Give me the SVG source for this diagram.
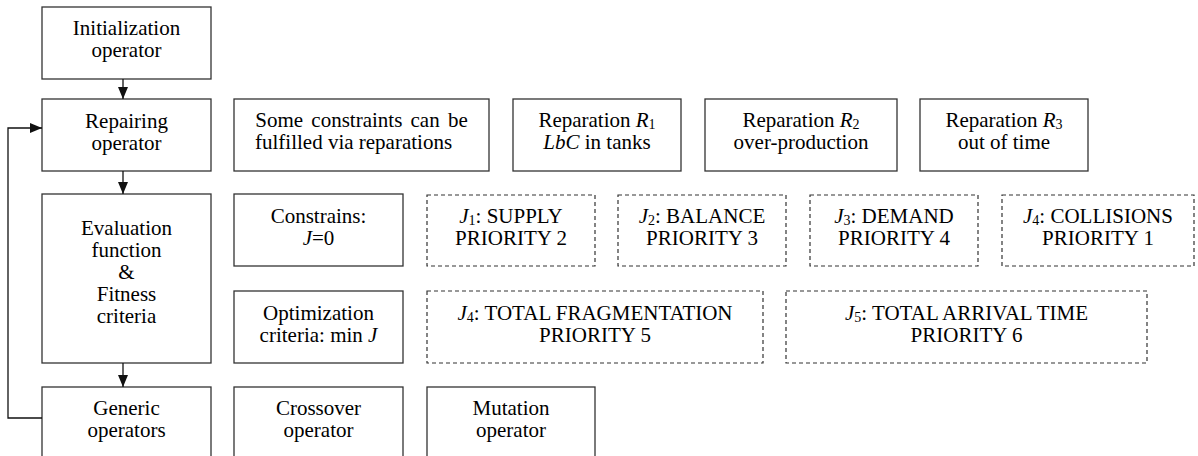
<svg xmlns="http://www.w3.org/2000/svg" width="1198" height="456" viewBox="0 0 1198 456" font-family="'Liberation Serif', 'Times New Roman', 'DejaVu Serif', serif">
<defs>
<style>
.box{fill:#fff;stroke:#333;stroke-width:1.3}
.dbox{fill:#fff;stroke:#333;stroke-width:1.2;stroke-dasharray:4 3}
text{font-family:'Liberation Serif','Times New Roman','DejaVu Serif',serif;font-size:21px;fill:#000;text-anchor:middle}
.i{font-style:italic}
.sub{font-size:14px}
.conn{fill:none;stroke:#111;stroke-width:1.3}
</style>
<marker id="ah" markerWidth="12" markerHeight="10" refX="12" refY="5" orient="auto" markerUnits="userSpaceOnUse">
<path d="M0,0 L12,5 L0,10 z" fill="#111"/>
</marker>
</defs>
<rect width="1198" height="456" fill="#fff"/>

<g id="init">
<rect class="box" x="42" y="7" width="169" height="72"/>
<text x="126.5" y="35">Initialization</text>
<text x="126.5" y="57">operator</text>
</g>
<g id="repairing">
<rect class="box" x="42" y="99" width="169" height="72"/>
<text x="126.5" y="128">Repairing</text>
<text x="126.5" y="150">operator</text>
</g>
<g id="evaluation">
<rect class="box" x="42" y="194" width="169" height="169"/>
<text x="126.5" y="235">Evaluation</text>
<text x="126.5" y="257">function</text>
<text x="126.5" y="279">&amp;</text>
<text x="126.5" y="301">Fitness</text>
<text x="126.5" y="323">criteria</text>
</g>
<g id="generic">
<rect class="box" x="42" y="387" width="169" height="80"/>
<text x="126.5" y="415">Generic</text>
<text x="126.5" y="437">operators</text>
</g>

<g id="some-constraints">
<rect class="box" x="234" y="99" width="255" height="72"/>
<text x="361.5" y="127" word-spacing="3">Some constraints can be</text>
<text x="255" y="149" style="text-anchor:start">fulfilled via reparations</text>
</g>
<g id="r1">
<rect class="box" x="513" y="99" width="168" height="72"/>
<text x="597" y="127">Reparation <tspan class="i">R</tspan><tspan class="sub" dy="2">1</tspan></text>
<text x="597" y="149"><tspan class="i">LbC</tspan> in tanks</text>
</g>
<g id="r2">
<rect class="box" x="705" y="99" width="192" height="72"/>
<text x="801" y="127">Reparation <tspan class="i">R</tspan><tspan class="sub" dy="2">2</tspan></text>
<text x="801" y="149">over-production</text>
</g>
<g id="r3">
<rect class="box" x="920" y="99" width="168" height="72"/>
<text x="1004" y="127">Reparation <tspan class="i">R</tspan><tspan class="sub" dy="2">3</tspan></text>
<text x="1004" y="149">out of time</text>
</g>

<g id="constrains">
<rect class="box" x="234" y="194" width="169" height="72"/>
<text x="318.5" y="223">Constrains:</text>
<text x="318.5" y="245"><tspan class="i">J</tspan>=0</text>
</g>
<g id="j1">
<rect class="dbox" x="427" y="195" width="168" height="71"/>
<text x="511" y="223"><tspan class="i">J</tspan><tspan class="sub" dy="2">1</tspan><tspan dy="-2">: SUPPLY</tspan></text>
<text x="511" y="245">PRIORITY 2</text>
</g>
<g id="j2">
<rect class="dbox" x="618" y="195" width="168" height="71"/>
<text x="702" y="223"><tspan class="i">J</tspan><tspan class="sub" dy="2">2</tspan><tspan dy="-2">: BALANCE</tspan></text>
<text x="702" y="245">PRIORITY 3</text>
</g>
<g id="j3">
<rect class="dbox" x="810" y="195" width="168" height="71"/>
<text x="894" y="223"><tspan class="i">J</tspan><tspan class="sub" dy="2">3</tspan><tspan dy="-2">: DEMAND</tspan></text>
<text x="894" y="245">PRIORITY 4</text>
</g>
<g id="j4-collisions">
<rect class="dbox" x="1002" y="195" width="192" height="71"/>
<text x="1098" y="223"><tspan class="i">J</tspan><tspan class="sub" dy="2">4</tspan><tspan dy="-2">: COLLISIONS</tspan></text>
<text x="1098" y="245">PRIORITY 1</text>
</g>

<g id="optimization">
<rect class="box" x="234" y="291" width="169" height="72"/>
<text x="318.5" y="320">Optimization</text>
<text x="318.5" y="342">criteria: min <tspan class="i">J</tspan></text>
</g>
<g id="j4-fragmentation">
<rect class="dbox" x="427" y="291" width="336" height="72"/>
<text x="595" y="320"><tspan class="i">J</tspan><tspan class="sub" dy="2">4</tspan><tspan dy="-2">: TOTAL FRAGMENTATION</tspan></text>
<text x="595" y="342">PRIORITY 5</text>
</g>
<g id="j5-arrival">
<rect class="dbox" x="786" y="291" width="361" height="72"/>
<text x="966.5" y="320"><tspan class="i">J</tspan><tspan class="sub" dy="2">5</tspan><tspan dy="-2">: TOTAL ARRIVAL TIME</tspan></text>
<text x="966.5" y="342">PRIORITY 6</text>
</g>

<g id="crossover">
<rect class="box" x="234" y="387" width="169" height="80"/>
<text x="318.5" y="415">Crossover</text>
<text x="318.5" y="437">operator</text>
</g>
<g id="mutation">
<rect class="box" x="427" y="387" width="168" height="80"/>
<text x="511" y="415">Mutation</text>
<text x="511" y="437">operator</text>
</g>

<g id="connectors">
<line class="conn" x1="123" y1="79" x2="123" y2="99" marker-end="url(#ah)"/>
<line class="conn" x1="123" y1="171" x2="123" y2="194" marker-end="url(#ah)"/>
<line class="conn" x1="123" y1="363" x2="123" y2="387" marker-end="url(#ah)"/>
<polyline class="conn" points="42,418 8,418 8,128 42,128" marker-end="url(#ah)"/>
</g>
</svg>
